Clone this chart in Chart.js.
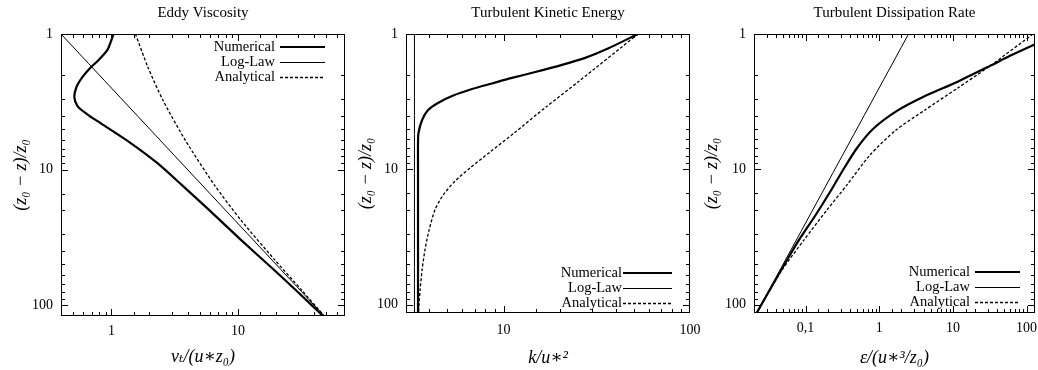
<!DOCTYPE html>
<html>
<head>
<meta charset="utf-8">
<script src="https://cdn.jsdelivr.net/npm/chart.js@4.4.1/dist/chart.umd.min.js"></script>
<style>
  html, body { margin: 0; padding: 0; background: #fff; }
  #wrap { position: relative; width: 1038px; height: 370px; }
  canvas { position: absolute; top: 0; }
</style>
</head>
<body>
<div id="wrap">
  <canvas id="evChart" width="348" height="370" style="left:0px"></canvas>
  <canvas id="tkeChart" width="360" height="370" style="left:348px"></canvas>
  <canvas id="epsChart" width="345" height="370" style="left:693px"></canvas>
</div>
<script>
// --- Data ---
// depth (z0 - z)/z0 on the y axis, profile value on the x axis

// Eddy Viscosity
const evNumDepth = [1, 1.31, 1.56, 1.78, 2.08, 2.46, 2.92, 3.40, 3.89, 4.54, 6.37, 8.96, 13.0, 19.9, 33.1, 55.2, 77.5, 120];
const evNumVal   = [1.04, 0.93, 0.79, 0.68, 0.59, 0.53, 0.51, 0.54, 0.64, 0.82, 1.42, 2.31, 3.61, 5.93, 10.6, 19.4, 28.7, 47];
const evLogDepth = [1, 120];
const evLogVal   = [0.4, 48];
const evAnaDepth = [1, 1.75, 3.07, 6.06, 13.0, 23.6, 46.5, 77.5, 120];
const evAnaVal   = [1.55, 1.94, 2.55, 3.83, 6.52, 10.56, 19.6, 31.9, 48];

// Turbulent Kinetic Energy
const tkeNumDepth = [1, 1.28, 1.50, 1.69, 1.91, 2.11, 2.32, 2.55, 2.87, 3.23, 3.64, 4.32, 5.39, 6.38, 10, 30, 115];
const tkeNumVal   = [52.6, 36.3, 27.4, 20.6, 14.8, 11.1, 8.67, 6.78, 5.30, 4.45, 3.94, 3.66, 3.50, 3.48, 3.48, 3.48, 3.48];
const tkeLogDepth = [1, 115];
const tkeLogVal   = [3.33, 3.33];
const tkeAnaDepth = [1, 2.26, 3.46, 5.39, 7.44, 9.76, 12.2, 15.5, 19.9, 28.0, 39.4, 55.3, 77.6, 115];
const tkeAnaVal   = [52.6, 25.1, 16.9, 11.4, 8.47, 6.61, 5.50, 4.74, 4.29, 3.99, 3.79, 3.66, 3.57, 3.50];

// Turbulent Dissipation Rate
const epsNumDepth = [1.19, 1.45, 1.72, 2.26, 2.92, 3.70, 5.03, 6.95, 10.1, 14.7, 22.1, 33.2, 57.3, 115];
const epsNumVal   = [130, 59.5, 31.9, 11.4, 3.93, 1.74, 0.823, 0.50, 0.323, 0.215, 0.1345, 0.0816, 0.0451, 0.0217];
const epsLogDepth = [1, 115];
const epsLogVal   = [2.5, 0.0217];
const epsAnaDepth = [1, 1.72, 2.5, 3.64, 5.12, 7.83, 13.0, 19.9, 33.2, 55.3, 115];
const epsAnaVal   = [122, 31.9, 11.7, 4.18, 1.69, 0.75, 0.366, 0.196, 0.0954, 0.048, 0.0217];

const keyLabels = ['Numerical', 'Log-Law', 'Analytical'];

// --- Helpers ---
const SERIF = '"Liberation Serif", "DejaVu Serif", serif';

function pts(vals, depths) {
  return vals.map((v, i) => ({ x: v, y: depths[i] }));
}

function isDecade(v) {
  const e = Math.log10(v);
  return Math.abs(e - Math.round(e)) < 1e-6;
}

function decadeLabel(v) {
  if (!isDecade(v)) return '';
  return String(Number(v.toPrecision(6))).replace('.', ',');
}

// frame + inward gnuplot-style tick marks on all four sides
const gpFrame = {
  id: 'gpFrame',
  afterDatasetsDraw(chart) {
    const { ctx, chartArea: a, scales } = chart;
    ctx.save();
    ctx.strokeStyle = '#000';
    ctx.lineWidth = 1;
    ctx.setLineDash([]);
    ctx.strokeRect(a.left + 0.5, a.top + 0.5, a.right - a.left - 1, a.bottom - a.top - 1);
    ctx.beginPath();
    scales.x.ticks.forEach(t => {
      const p = Math.round(scales.x.getPixelForValue(t.value)) + 0.5;
      if (p < a.left + 2 || p > a.right - 2) return;
      const len = isDecade(t.value) ? 7 : 4;
      ctx.moveTo(p, a.bottom); ctx.lineTo(p, a.bottom - len);
      ctx.moveTo(p, a.top); ctx.lineTo(p, a.top + len);
    });
    scales.y.ticks.forEach(t => {
      const p = Math.round(scales.y.getPixelForValue(t.value)) + 0.5;
      if (p < a.top + 2 || p > a.bottom - 2) return;
      const len = isDecade(t.value) ? 7 : 4;
      ctx.moveTo(a.left, p); ctx.lineTo(a.left + len, p);
      ctx.moveTo(a.right, p); ctx.lineTo(a.right - len, p);
    });
    ctx.stroke();
    ctx.restore();
  }
};

// gnuplot-style key: text right-aligned, line sample to its right
const gpKey = {
  id: 'gpKey',
  afterDatasetsDraw(chart, args, opts) {
    const { ctx, chartArea: a } = chart;
    ctx.save();
    ctx.font = '14.5px ' + SERIF;
    ctx.textAlign = 'right';
    ctx.textBaseline = 'middle';
    ctx.fillStyle = '#000';
    ctx.strokeStyle = '#000';
    chart.data.datasets.forEach((ds, i) => {
      const y = Math.round(opts.fromTop != null ? a.top + opts.fromTop + i * 15 : a.bottom - opts.fromBottom + i * 15);
      ctx.fillText(ds.label, a.right - opts.textRight, y);
      ctx.beginPath();
      ctx.lineWidth = ds.borderWidth;
      ctx.setLineDash(ds.borderDash || []);
      const ly = ds.borderWidth < 2 ? y + 0.5 : y;
      ctx.moveTo(a.right - opts.lineFrom, ly);
      ctx.lineTo(a.right - opts.lineTo, ly);
      ctx.stroke();
    });
    ctx.restore();
  }
};

function buildChart(id, p) {
  return new Chart(document.getElementById(id), {
    type: 'line',
    data: {
      datasets: [
        { label: keyLabels[0], data: p.num, borderColor: '#000', borderWidth: 2.2 },
        { label: keyLabels[1], data: p.log, borderColor: '#000', borderWidth: 1 },
        { label: keyLabels[2], data: p.ana, borderColor: '#000', borderWidth: 1.3, borderDash: [3, 2] }
      ]
    },
    options: {
      responsive: false,
      animation: false,
      layout: { padding: { left: 0, right: p.padR, top: 0, bottom: 0 } },
      elements: { point: { radius: 0 }, line: { tension: 0.25, fill: false } },
      scales: {
        x: {
          type: 'logarithmic', position: 'bottom', min: p.xmin, max: p.xmax,
          grid: { display: false, drawTicks: false }, border: { display: false },
          ticks: { autoSkip: false, maxRotation: 0, padding: p.xpad, color: '#000',
                   font: { family: SERIF, size: 14 }, callback: v => decadeLabel(v) },
          title: { display: true, text: p.xtitle, color: '#000',
                   font: { family: SERIF, size: 18, style: 'italic' }, padding: { top: 0, bottom: p.xtpad } },
          afterFit: s => { s.height = p.xh; s.paddingLeft = 0; s.paddingRight = 0; }
        },
        y: {
          type: 'logarithmic', reverse: true, min: 1, max: p.ymax,
          grid: { display: false, drawTicks: false }, border: { display: false },
          ticks: { autoSkip: false, padding: 8, color: '#000',
                   font: { family: SERIF, size: 14 }, callback: v => decadeLabel(v) },
          title: { display: true, text: '(z₀ − z)/z₀', color: '#000',
                   font: { family: SERIF, size: 18, style: 'italic' }, padding: { top: p.ytpad, bottom: 0 } },
          afterFit: s => { s.width = p.yw; s.paddingTop = 0; s.paddingBottom = 0; }
        }
      },
      plugins: {
        legend: { display: false },
        tooltip: { enabled: false },
        title: { display: true, text: p.title, color: '#000', fullSize: false,
                 font: { family: SERIF, size: 15, weight: 'normal' }, padding: { top: 4, bottom: 12 } },
        gpKey: p.key
      }
    },
    plugins: [gpFrame, gpKey]
  });
}

buildChart('evChart', {
  title: 'Eddy Viscosity', xtitle: 'νₜ/(u∗z₀)',
  num: pts(evNumVal, evNumDepth), log: pts(evLogVal, evLogDepth), ana: pts(evAnaVal, evAnaDepth),
  xmin: 0.4, xmax: 70, ymax: 120, yw: 61, xh: 54, xpad: 7, xtpad: 2, ytpad: 10, padR: 3,
  key: { fromTop: 13, textRight: 70, lineFrom: 65, lineTo: 20 }
});

buildChart('tkeChart', {
  title: 'Turbulent Kinetic Energy', xtitle: 'k/u∗²',
  num: pts(tkeNumVal, tkeNumDepth), log: pts(tkeLogVal, tkeLogDepth), ana: pts(tkeAnaVal, tkeAnaDepth),
  xmin: 3, xmax: 100, ymax: 115, yw: 58, xh: 57, xpad: 9, xtpad: 1, ytpad: 7, padR: 18,
  key: { fromBottom: 40, textRight: 68, lineFrom: 67, lineTo: 18 }
});

buildChart('epsChart', {
  title: 'Turbulent Dissipation Rate', xtitle: 'ε/(u∗³/z₀)',
  num: pts(epsNumVal, epsNumDepth), log: pts(epsLogVal, epsLogDepth), ana: pts(epsAnaVal, epsAnaDepth),
  xmin: 0.02, xmax: 130, ymax: 115, yw: 61, xh: 57, xpad: 7, xtpad: 1, ytpad: 8, padR: 3,
  key: { fromBottom: 41, textRight: 65, lineFrom: 60, lineTo: 15 }
});
</script>
</body>
</html>
